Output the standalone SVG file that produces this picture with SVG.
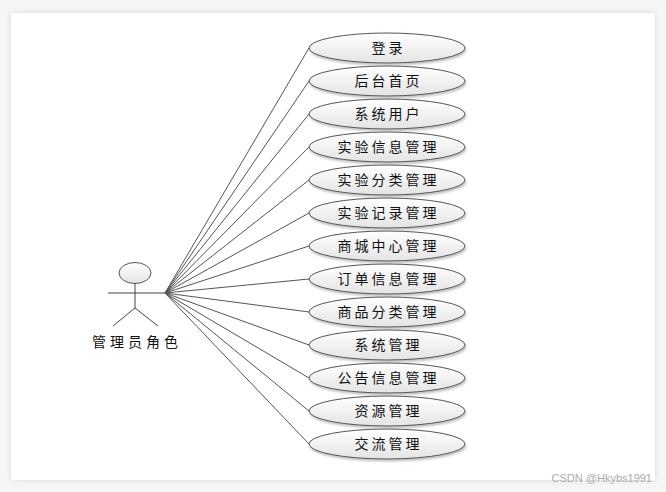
<svg xmlns="http://www.w3.org/2000/svg" width="666" height="492" viewBox="0 0 666 492">
<defs>
<linearGradient id="g" x1="0" y1="0" x2="0" y2="1">
<stop offset="0" stop-color="#ffffff"/>
<stop offset="1" stop-color="#e4e4e4"/>
</linearGradient>
<filter id="cardsh" x="-5%" y="-5%" width="110%" height="110%">
<feGaussianBlur in="SourceAlpha" stdDeviation="3"/>
<feOffset dx="0" dy="0"/>
<feComponentTransfer><feFuncA type="linear" slope="0.12"/></feComponentTransfer>
<feMerge><feMergeNode/><feMergeNode in="SourceGraphic"/></feMerge>
</filter>
<filter id="sh" x="-10%" y="-20%" width="120%" height="150%">
<feGaussianBlur in="SourceAlpha" stdDeviation="1"/>
<feOffset dx="1" dy="2"/>
<feComponentTransfer><feFuncA type="linear" slope="0.25"/></feComponentTransfer>
<feMerge><feMergeNode/><feMergeNode in="SourceGraphic"/></feMerge>
</filter>
</defs>
<style>
.uc ellipse{fill:url(#g);stroke:#555;stroke-width:1}
.uc text{font-family:"Noto Sans CJK SC","Liberation Sans",sans-serif;font-size:14px;fill:#111;text-anchor:middle;letter-spacing:3px}
.conn line{stroke:#555;stroke-width:1}
.actor ellipse{fill:url(#g);stroke:#555}
.actor line{stroke:#444;stroke-width:1}
.actor text{font-family:"Noto Sans CJK SC","Liberation Sans",sans-serif;font-size:14px;fill:#111;text-anchor:middle;letter-spacing:4px}
</style>
<rect x="0" y="0" width="666" height="492" fill="#f6f6f6"/>
<rect x="11" y="13" width="644" height="467" fill="#ffffff" filter="url(#cardsh)"/>
<g id="connectors" class="conn">
<line x1="165" y1="293" x2="309" y2="48"/>
<line x1="165" y1="293" x2="309" y2="81"/>
<line x1="165" y1="293" x2="309" y2="114"/>
<line x1="165" y1="293" x2="309" y2="147"/>
<line x1="165" y1="293" x2="309" y2="180"/>
<line x1="165" y1="293" x2="309" y2="213"/>
<line x1="165" y1="293" x2="309" y2="246"/>
<line x1="165" y1="293" x2="309" y2="279"/>
<line x1="165" y1="293" x2="309" y2="312"/>
<line x1="165" y1="293" x2="309" y2="345"/>
<line x1="165" y1="293" x2="309" y2="378"/>
<line x1="165" y1="293" x2="309" y2="411"/>
<line x1="165" y1="293" x2="309" y2="444"/>
</g>
<g id="actor" class="actor">
<ellipse cx="135" cy="273" rx="16" ry="10.5"/>
<line x1="135" y1="283.5" x2="135" y2="308"/>
<line x1="108" y1="293" x2="166" y2="293"/>
<line x1="135" y1="308" x2="113" y2="326"/>
<line x1="135" y1="308" x2="158" y2="326"/>
<text x="137" y="347">管理员角色</text>
</g>
<g id="uc1" class="uc"><ellipse cx="387" cy="48" rx="78" ry="15" filter="url(#sh)"/><text x="388.5" y="53">登录</text></g>
<g id="uc2" class="uc"><ellipse cx="387" cy="81" rx="78" ry="15" filter="url(#sh)"/><text x="388.5" y="86">后台首页</text></g>
<g id="uc3" class="uc"><ellipse cx="387" cy="114" rx="78" ry="15" filter="url(#sh)"/><text x="388.5" y="119">系统用户</text></g>
<g id="uc4" class="uc"><ellipse cx="387" cy="147" rx="78" ry="15" filter="url(#sh)"/><text x="388.5" y="152">实验信息管理</text></g>
<g id="uc5" class="uc"><ellipse cx="387" cy="180" rx="78" ry="15" filter="url(#sh)"/><text x="388.5" y="185">实验分类管理</text></g>
<g id="uc6" class="uc"><ellipse cx="387" cy="213" rx="78" ry="15" filter="url(#sh)"/><text x="388.5" y="218">实验记录管理</text></g>
<g id="uc7" class="uc"><ellipse cx="387" cy="246" rx="78" ry="15" filter="url(#sh)"/><text x="388.5" y="251">商城中心管理</text></g>
<g id="uc8" class="uc"><ellipse cx="387" cy="279" rx="78" ry="15" filter="url(#sh)"/><text x="388.5" y="284">订单信息管理</text></g>
<g id="uc9" class="uc"><ellipse cx="387" cy="312" rx="78" ry="15" filter="url(#sh)"/><text x="388.5" y="317">商品分类管理</text></g>
<g id="uc10" class="uc"><ellipse cx="387" cy="345" rx="78" ry="15" filter="url(#sh)"/><text x="388.5" y="350">系统管理</text></g>
<g id="uc11" class="uc"><ellipse cx="387" cy="378" rx="78" ry="15" filter="url(#sh)"/><text x="388.5" y="383">公告信息管理</text></g>
<g id="uc12" class="uc"><ellipse cx="387" cy="411" rx="78" ry="15" filter="url(#sh)"/><text x="388.5" y="416">资源管理</text></g>
<g id="uc13" class="uc"><ellipse cx="387" cy="444" rx="78" ry="15" filter="url(#sh)"/><text x="388.5" y="449">交流管理</text></g>
<text x="652" y="482" font-family="'Liberation Sans',sans-serif" font-size="11" fill="#aaaaaa" text-anchor="end">CSDN @Hkybs1991</text>
</svg>
